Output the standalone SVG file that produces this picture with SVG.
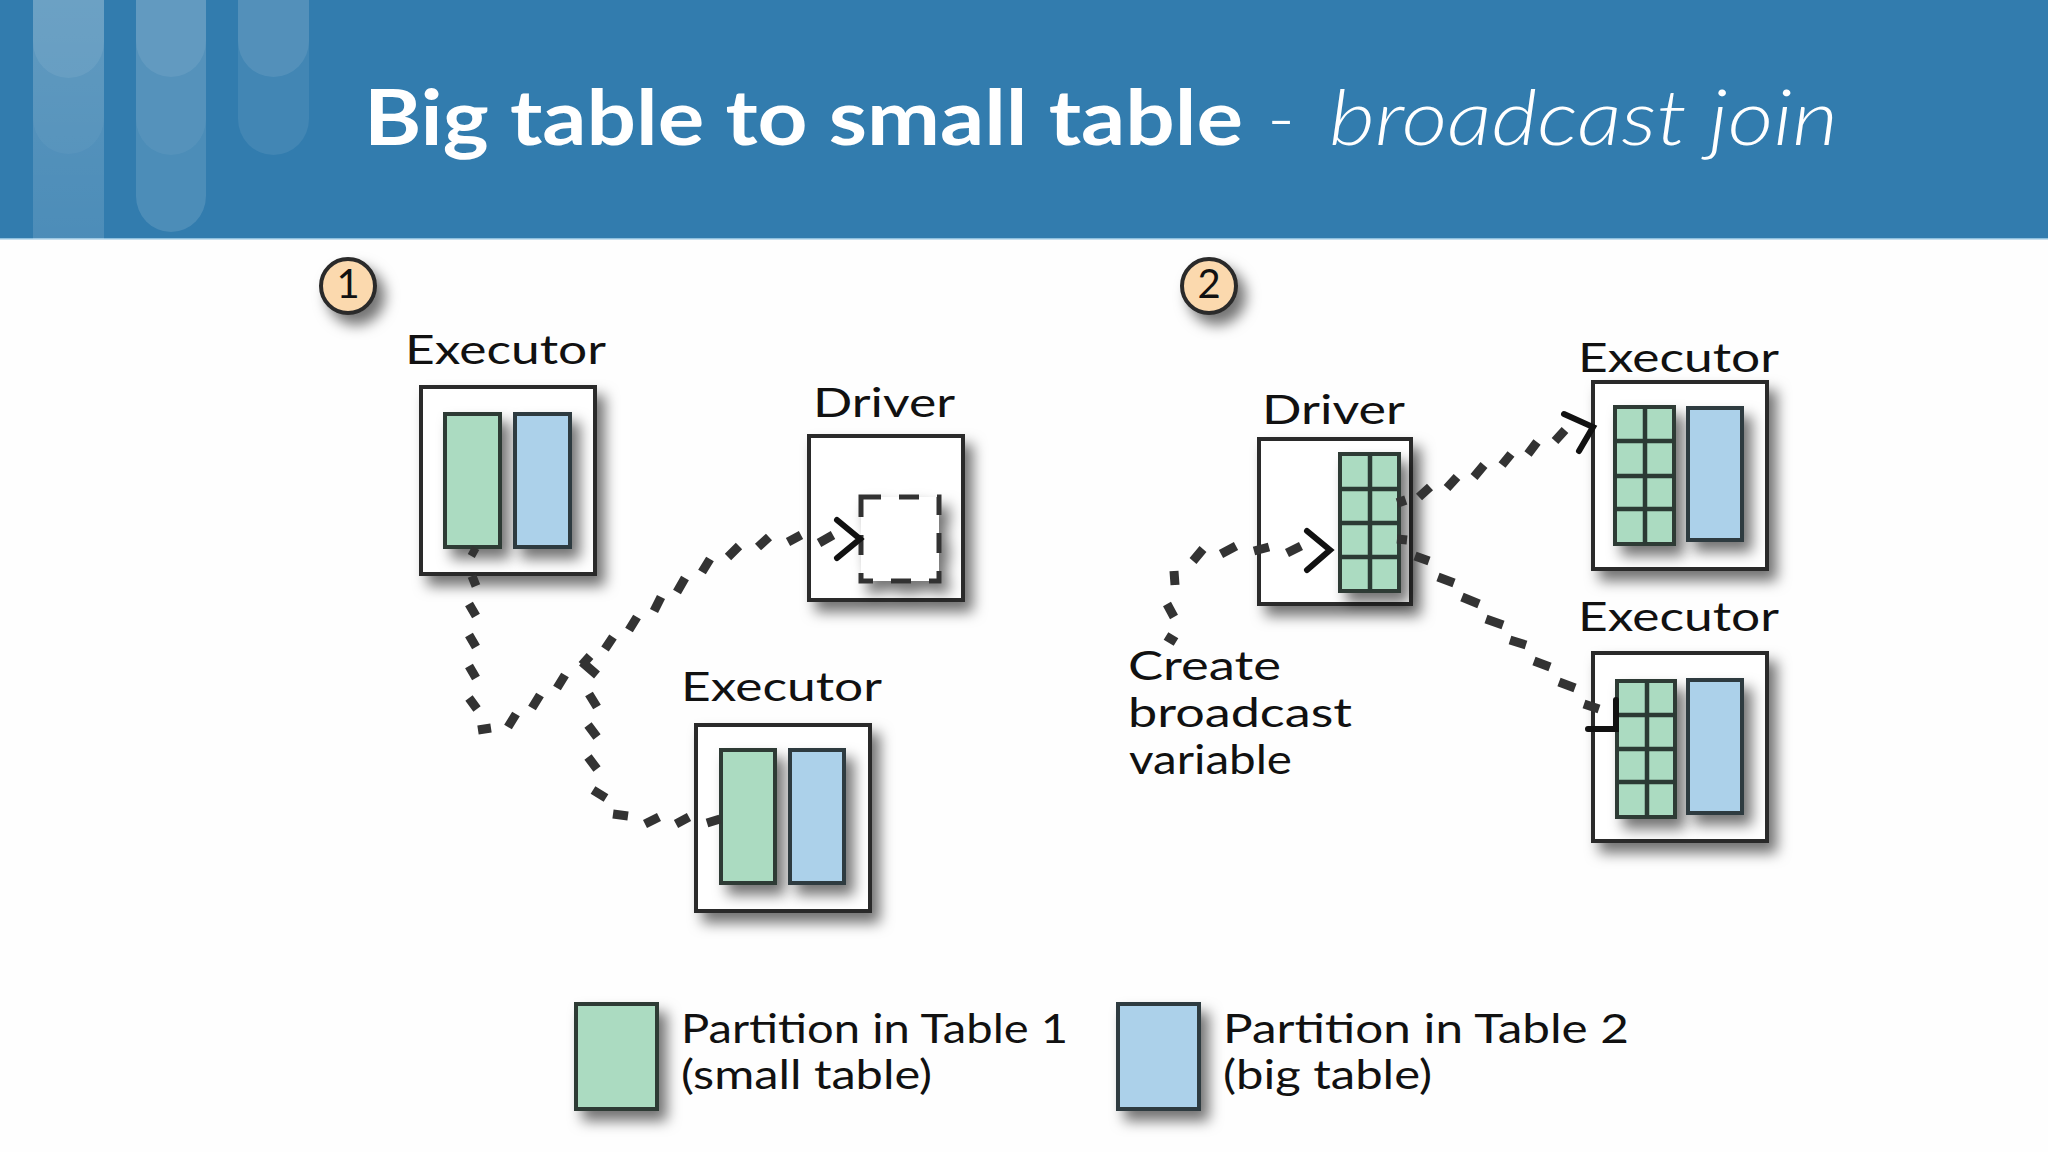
<svg xmlns="http://www.w3.org/2000/svg" width="2048" height="1152" viewBox="0 0 2048 1152">
<defs>
<filter id="sh" x="-40%" y="-40%" width="190%" height="190%"><feDropShadow dx="8" dy="10" stdDeviation="7" flood-color="#000" flood-opacity="0.55"/></filter>
<linearGradient id="fade" x1="0" y1="0" x2="0" y2="1"><stop offset="0" stop-color="#fff" stop-opacity="0.2"/><stop offset="1" stop-color="#fff" stop-opacity="0.13"/></linearGradient>
</defs>
<style>
.box{fill:#fff;stroke:#2a2a2a;stroke-width:4;filter:url(#sh)}
.g{fill:#abdbc1;stroke:#2f3a36;stroke-width:4;filter:url(#sh)}
.b{fill:#acd1ea;stroke:#2f3a3f;stroke-width:4;filter:url(#sh)}
.grid{fill:none;stroke:#2b3a34;stroke-width:4.5}
.dash{fill:#fff;stroke:#333;stroke-width:5;stroke-dasharray:20 18;filter:url(#sh)}
.lab{font-family:"Lato","Liberation Sans",sans-serif;font-weight:400;font-size:40px;fill:#111}
.conn{fill:none;stroke:#333;stroke-width:9;stroke-linecap:butt}
.head{fill:none;stroke:#111;stroke-width:6;stroke-linecap:round;stroke-linejoin:miter}
.num{fill:#fbd9ae;stroke:#2a2a2a;stroke-width:4;filter:url(#sh)}
.tb{font-family:"Lato","Liberation Sans",sans-serif;font-size:76px;fill:#fff}
.dec{fill:#fff}
</style>
<rect width="2048" height="1152" fill="#fefefe"/>
<g id="header">
<rect width="2048" height="239" fill="#327cae"/>
<rect y="238" width="2048" height="1.5" fill="#8fc0de"/>
<rect x="33" width="71" height="239" fill="url(#fade)"/>
<path class="dec" opacity="0.04" d="M33 0V118A35.5 36 0 0 0 104 118V0Z"/>
<path class="dec" opacity="0.07" d="M33 0V42A35.5 36 0 0 0 104 42V0Z"/>
<path class="dec" opacity="0.13" d="M136 0V196A35 36 0 0 0 206 196V0Z"/>
<path class="dec" opacity="0.05" d="M136 0V119A35 36 0 0 0 206 119V0Z"/>
<path class="dec" opacity="0.08" d="M136 0V41A35 36 0 0 0 206 41V0Z"/>
<path class="dec" opacity="0.08" d="M238 0V119A35.5 36 0 0 0 309 119V0Z"/>
<path class="dec" opacity="0.09" d="M238 0V41A35.5 36 0 0 0 309 41V0Z"/>
<text class="tb" x="364" y="145" font-weight="700" textLength="879" lengthAdjust="spacingAndGlyphs">Big table to small table</text>
<text class="tb" x="1267" y="145" font-weight="300">-</text>
<text class="tb" x="1329" y="145" font-weight="300" font-style="italic" textLength="509" lengthAdjust="spacingAndGlyphs">broadcast join</text>
</g>
<g id="step-1"><circle class="num" cx="348" cy="286" r="27"/><text class="lab" x="348" y="298" font-size="33" text-anchor="middle">1</text></g>
<g id="step-2"><circle class="num" cx="1209" cy="286" r="27"/><text class="lab" x="1209" y="298" font-size="33" text-anchor="middle">2</text></g>

<g id="executor-1a">
<rect class="box" x="421" y="387" width="174" height="187"/>
<rect class="g" x="445" y="414" width="55" height="133"/>
<rect class="b" x="515" y="414" width="55" height="133"/>
<text class="lab" x="405" y="364" textLength="201" lengthAdjust="spacingAndGlyphs">Executor</text>
</g>
<g id="driver-1">
<rect class="box" x="809" y="436" width="154" height="164"/>
<rect class="dash" x="861" y="497" width="78" height="84"/>
<text class="lab" x="813" y="417" textLength="142" lengthAdjust="spacingAndGlyphs">Driver</text>
</g>
<g id="executor-1b">
<rect class="box" x="696" y="725" width="174" height="186"/>
<rect class="g" x="721" y="750" width="54" height="133"/>
<rect class="b" x="790" y="750" width="54" height="133"/>
<text class="lab" x="681" y="701" textLength="201" lengthAdjust="spacingAndGlyphs">Executor</text>
</g>
<g id="driver-2">
<rect class="box" x="1259" y="439" width="152" height="165"/>
<rect class="g" x="1340" y="454" width="59" height="137"/>
<path class="grid" d="M1370 454V591M1340 489H1399M1340 523H1399M1340 557H1399"/>
<text class="lab" x="1262" y="424" textLength="143" lengthAdjust="spacingAndGlyphs">Driver</text>
</g>
<g id="executor-2a">
<rect class="box" x="1593" y="382" width="174" height="187"/>
<rect class="g" x="1615" y="407" width="59" height="137"/>
<path class="grid" d="M1645 407V544M1615 441H1674M1615 476H1674M1615 509H1674"/>
<rect class="b" x="1688" y="408" width="54" height="132"/>
<text class="lab" x="1578" y="372" textLength="201" lengthAdjust="spacingAndGlyphs">Executor</text>
</g>
<g id="executor-2b">
<rect class="box" x="1593" y="653" width="174" height="188"/>
<rect class="g" x="1617" y="681" width="58" height="136"/>
<path class="grid" d="M1647 681V817M1617 715H1675M1617 749H1675M1617 782H1675"/>
<rect class="b" x="1688" y="680" width="54" height="133"/>
<text class="lab" x="1578" y="631" textLength="201" lengthAdjust="spacingAndGlyphs">Executor</text>
</g>
<g id="note">
<text class="lab" x="1128" y="680" textLength="153" lengthAdjust="spacingAndGlyphs">Create</text>
<text class="lab" x="1128" y="727" textLength="224" lengthAdjust="spacingAndGlyphs">broadcast</text>
<text class="lab" x="1129" y="774" textLength="163" lengthAdjust="spacingAndGlyphs">variable</text>
</g>
<g id="connectors">
<path class="conn" d="M470 550L477 554M472 576L476 586M469 604L476 616M469 635L476 647M469 666L476 678M469 698L477 709M478 730L491 728M508 727L516 714M532 708L540 695M557 688L565 675M582 665L590 656M605 649L613 637M629 630L637 617M654 611L661 597M677 592L685 578M702 572L710 559M728 557L739 546M758 547L769 537M788 542L801 535M819 543L833 535"/>
<path class="head" d="M837 520L860 539L837 558"/>
<path class="conn" d="M707 823L720 819M676 824L689 817M645 824L659 817M613 814L628 816M593 790L606 798M588 757L597 769M588 725L597 737M589 694L597 707M582 662L597 675"/>
<path class="conn" d="M1166 636L1176 642M1167 604L1174 617M1174 571L1175 585M1193 561L1203 549M1221 554L1236 546M1254 551L1269 547M1287 553L1301 546"/>
<path class="head" d="M1307 531L1330 550L1307 570"/>
<path class="conn" d="M1400 497L1403 506M1419 497L1430 487M1447 488L1457 477M1474 477L1484 465M1502 465L1511 454M1528 454L1537 442M1555 441L1565 430"/>
<path class="head" d="M1564 414L1593 427L1579 451"/>
<path class="conn" d="M1397 539L1407 540M1415 556L1429 561M1438 577L1454 583M1462 597L1479 604M1486 619L1503 625M1510 640L1526 645M1534 661L1550 667M1559 682L1575 688M1584 704L1599 709"/>
<path class="head" d="M1588 729L1616 729L1616 700"/>
</g>
<g id="legend-1">
<rect class="g" x="576" y="1004" width="81" height="105"/>
<text class="lab" x="681" y="1043" textLength="387" lengthAdjust="spacingAndGlyphs">Partition in Table 1</text>
<text class="lab" x="681" y="1089" textLength="251" lengthAdjust="spacingAndGlyphs">(small table)</text>
</g>
<g id="legend-2">
<rect class="b" x="1118" y="1004" width="81" height="105"/>
<text class="lab" x="1223" y="1043" textLength="406" lengthAdjust="spacingAndGlyphs">Partition in Table 2</text>
<text class="lab" x="1223" y="1089" textLength="209" lengthAdjust="spacingAndGlyphs">(big table)</text>
</g>
</svg>
